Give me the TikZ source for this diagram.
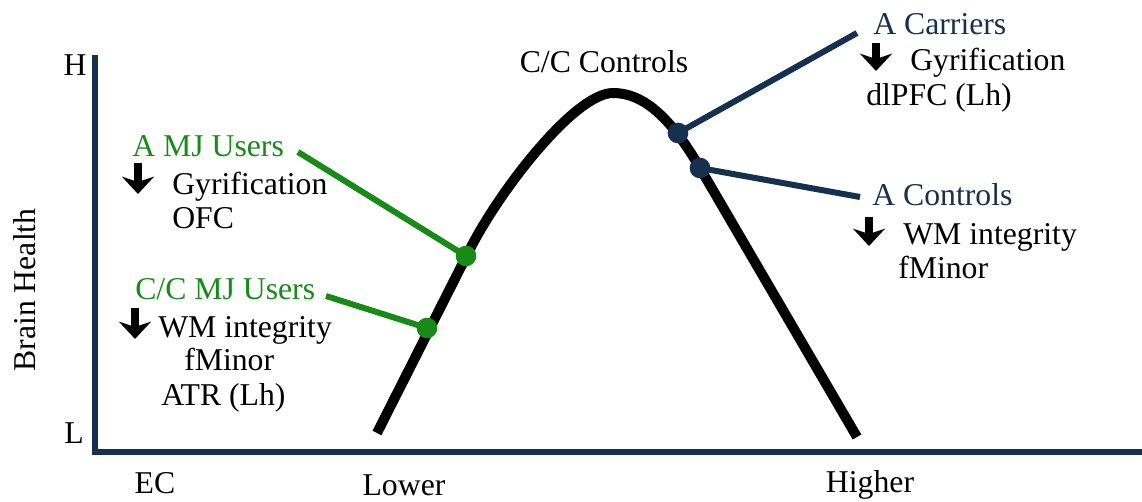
\documentclass[tikz,border=0pt]{standalone}
\usepackage{fontspec}
\setmainfont{Liberation Serif}
\usepackage{tikz}
\usetikzlibrary{arrows.meta, positioning}
\definecolor{mjgreen}{RGB}{24,138,24}
\definecolor{navy}{RGB}{22,49,79}
\tikzset{
    axisline/.style={navy, line width=5pt, line join=miter},
    bell/.style={black, line width=7.5pt},
    txt/.style={font=\fontsize{23.8}{28}\selectfont, inner sep=0pt, anchor=base west},
    lbl/.style={font=\fontsize{23.8}{28}\selectfont, inner sep=0pt},
    dot/.style={circle, fill=#1, minimum size=15.5pt, inner sep=0pt},
    link/.style={#1, line width=4.5pt},
    downarr/.style={line width=6pt, -{Stealth[length=13pt, width=24pt, inset=4pt]}}
}

\begin{document}
\begin{tikzpicture}[x=0.75pt, y=-0.75pt]
    \useasboundingbox (0,0) rectangle (1142,502);
    % axes
    \draw [axisline] (95,55) -- (95,452) -- (1142,452);
    \node (h) [lbl] at (75,65) {H};
    \node (l) [lbl] at (74,433) {L};
    \node (ec) [lbl] at (155,483) {EC};
    \node (lower) [lbl] at (404,485) {Lower};
    \node (higher) [lbl] at (870,485) {Higher};
    \node (health) [lbl, rotate=90] at (25,290) {Brain Health};
    % curve
    \draw [bell] (377,433) -- (470,249) .. controls (500,190) and (575,93) .. (613,93)
        .. controls (645,93) and (672,120) .. (700,168) -- (857,437);
    \node (cc) [lbl] at (604,62) {C/C Controls};

    % adolescent MJ users
    \node (mja) [txt, mjgreen] at (132,157) {A MJ Users};
    \draw [downarr] (138,163) -- (138,194);
    \node (mja1) [txt] at (172,195) {Gyrification};
    \node (mja2) [txt] at (172,229) {OFC};
    \coordinate (mja-end) at (298,152);
    \node (mjadot) [dot=mjgreen] at (466,256) {};
    \draw [link=mjgreen] (mja-end) -- (mjadot.center);

    % C/C MJ users
    \node (ccmj) [txt, mjgreen] at (135,300) {C/C MJ Users};
    \draw [downarr] (135,308) -- (135,339);
    \node (ccmj1) [txt] at (158,337) {WM integrity};
    \node (ccmj2) [txt] at (184,370) {fMinor};
    \node (ccmj3) [txt] at (161,405) {ATR (Lh)};
    \coordinate (ccmj-end) at (326,296);
    \node (ccmjdot) [dot=mjgreen] at (427,328) {};
    \draw [link=mjgreen] (ccmj-end) -- (ccmjdot.center);

    % adolescent carriers
    \node (car) [txt, navy] at (873,35) {A Carriers};
    \draw [downarr] (876,43) -- (876,71);
    \node (car1) [txt] at (910,71) {Gyrification};
    \node (car2) [txt] at (866,106) {dlPFC (Lh)};
    \coordinate (car-end) at (857,33);
    \node (cardot) [dot=navy] at (678,133) {};
    \draw [link=navy] (car-end) -- (cardot.center);

    % adolescent controls
    \node (con) [txt, navy] at (872,206) {A Controls};
    \draw [downarr] (869,217) -- (869,246);
    \node (con1) [txt] at (903,245) {WM integrity};
    \node (con2) [txt] at (898,279) {fMinor};
    \coordinate (con-end) at (860,197);
    \node (condot) [dot=navy] at (700,168) {};
    \draw [link=navy] (con-end) -- (condot.center);
\end{tikzpicture}
\end{document}
